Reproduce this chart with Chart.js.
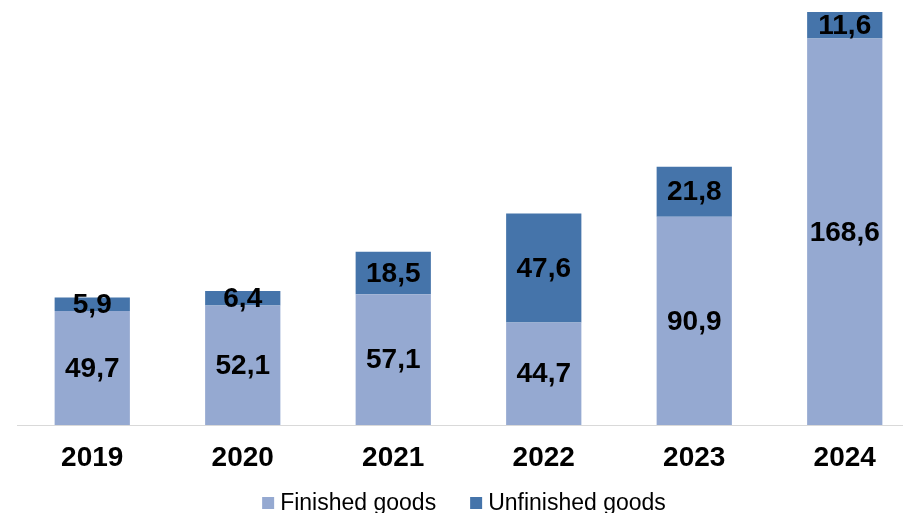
<!DOCTYPE html>
<html>
<head>
<meta charset="utf-8">
<script src="https://cdn.jsdelivr.net/npm/chart.js@4"></script>
<style>
  html, body { margin: 0; padding: 0; overflow: hidden; background: #ffffff; }
  #wrap { width: 903px; height: 513px; overflow: hidden; }
  canvas { display: block; }
</style>
</head>
<body>
<div id="wrap"><canvas id="chart" width="920" height="513"></canvas></div>
<script>
// Stock of goods by year
const years = ['2019', '2020', '2021', '2022', '2023', '2024'];
const finishedGoods = [49.7, 52.1, 57.1, 44.7, 90.9, 168.6];
const unfinishedGoods = [5.9, 6.4, 18.5, 47.6, 21.8, 11.6];
const seriesNames = ['Finished goods', 'Unfinished goods'];
const seriesColors = ['#95A9D1', '#4574AA'];

const FONT = "'Liberation Sans', Arial, sans-serif";

const fmt = v => v.toFixed(1).replace('.', ',');

// Value labels centred inside each stacked segment
const segmentLabels = {
  id: 'segmentLabels',
  afterDatasetsDraw(chart) {
    const ctx = chart.ctx;
    ctx.save();
    ctx.font = 'bold 28px ' + FONT;
    ctx.fillStyle = '#000000';
    ctx.textAlign = 'center';
    ctx.textBaseline = 'middle';
    chart.data.datasets.forEach((ds, i) => {
      chart.getDatasetMeta(i).data.forEach((bar, j) => {
        const p = bar.getProps(['x', 'y', 'base'], true);
        ctx.fillText(fmt(ds.data[j]), p.x, (p.y + p.base) / 2 + 1);
      });
    });
    ctx.restore();
  }
};

// Legend row along the bottom edge
const bottomLegend = {
  id: 'bottomLegend',
  afterDraw(chart) {
    const ctx = chart.ctx;
    ctx.save();
    ctx.font = '23px ' + FONT;
    const box = 12, gap = 6, itemGap = 34;
    const items = chart.data.datasets.map(ds => ({
      text: ds.label, color: ds.backgroundColor, w: ctx.measureText(ds.label).width
    }));
    let total = 0;
    items.forEach((it, k) => { total += box + gap + it.w + (k ? itemGap : 0); });
    let x = chart.width / 2 + 4 - total / 2;
    const baseline = 510;
    ctx.textBaseline = 'alphabetic';
    ctx.textAlign = 'left';
    items.forEach(it => {
      ctx.fillStyle = it.color;
      ctx.fillRect(x, 497, box, box);
      ctx.fillStyle = '#000000';
      ctx.fillText(it.text, x + box + gap, baseline);
      x += box + gap + it.w + itemGap;
    });
    ctx.restore();
  }
};

new Chart(document.getElementById('chart'), {
  type: 'bar',
  data: {
    labels: years,
    datasets: [
      { label: seriesNames[0], data: finishedGoods, backgroundColor: seriesColors[0], borderWidth: 0 },
      { label: seriesNames[1], data: unfinishedGoods, backgroundColor: seriesColors[1], borderWidth: 0 }
    ]
  },
  options: {
    responsive: false,
    animation: false,
    devicePixelRatio: 1,
    layout: { padding: { left: 17, right: 0, top: 12, bottom: 0 } },
    datasets: { bar: { categoryPercentage: 1, barPercentage: 0.5 } },
    plugins: { legend: { display: false }, tooltip: { enabled: false } },
    scales: {
      x: {
        stacked: true,
        grid: { display: false, drawTicks: false },
        border: { display: true, color: '#D9D9D9', width: 1 },
        ticks: { color: '#000000', padding: 16, font: { family: FONT, size: 28, weight: 'bold' } },
        afterFit(scale) { scale.height = 88; }
      },
      y: {
        stacked: true,
        display: false,
        min: 0,
        max: 180.2
      }
    }
  },
  plugins: [segmentLabels, bottomLegend]
});
</script>
</body>
</html>
